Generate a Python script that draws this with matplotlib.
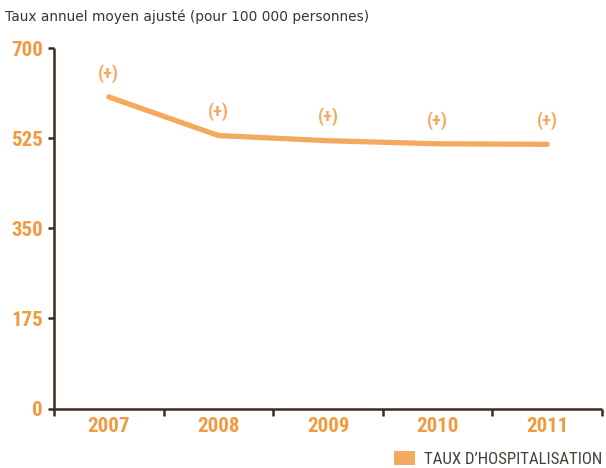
import matplotlib
matplotlib.use("Agg")
import matplotlib.pyplot as plt
import matplotlib.font_manager as fm
from matplotlib.patches import Patch

# data
years = ["2007", "2008", "2009", "2010", "2011"]
hosp_rate = [605, 530, 520, 514, 513]
y_ticks = [0, 175, 350, 525, 700]
marker_text = "(+)"

title = "Taux annuel moyen ajusté (pour 100 000 personnes)"
legend_label = "TAUX D\u2019HOSPITALISATION"

ORANGE_TXT = "#f29a3f"
ORANGE_LINE = "#f3aa5f"
BROWN = "#3d2b1f"

# pick a narrow face if one is around, otherwise condensed DejaVu
installed = {f.name for f in fm.fontManager.ttflist}
narrow = "DejaVu Sans"
for cand in ["Liberation Sans Narrow", "Roboto Condensed", "Open Sans Condensed"]:
    if cand in installed:
        narrow = cand
        break
NARROW = [narrow, "DejaVu Sans"]

fig = plt.figure(figsize=(6.06, 4.68), dpi=100)
ax = fig.add_axes([54 / 606, 1 - 408.5 / 468, (602 - 54) / 606, (408.5 - 48) / 468])

x = list(range(len(years)))
ax.plot(x, hosp_rate, color=ORANGE_LINE, lw=3.8, solid_capstyle="round",
        solid_joinstyle="round", zorder=3)

# the little (+) above every point
for xi, v in zip(x, hosp_rate):
    ax.annotate(marker_text, (xi, v), xytext=(0, 17), textcoords="offset points",
                ha="center", va="center", color=ORANGE_LINE, fontsize=13.5,
                fontweight="bold", family=NARROW, fontstretch="condensed")

ax.set_xlim(-0.5, len(years) - 0.5)
ax.set_ylim(0, 700)

ax.set_xticks(x)
ax.set_xticklabels(years)
ax.set_xticks([i - 0.5 for i in range(len(years) + 1)], minor=True)
ax.tick_params(axis="x", which="major", length=0, pad=6)
ax.tick_params(axis="x", which="minor", length=5, width=1.8, color=BROWN, direction="out")

ax.set_yticks(y_ticks)
ax.tick_params(axis="y", length=4, width=1.8, color=BROWN, pad=4)

for lab in ax.get_xticklabels() + ax.get_yticklabels():
    lab.set_family(NARROW)
    lab.set_fontweight("bold")
    lab.set_fontstretch("condensed")
    lab.set_fontsize(15)
    lab.set_color(ORANGE_TXT)

for side in ["top", "right"]:
    ax.spines[side].set_visible(False)
for side in ["left", "bottom"]:
    ax.spines[side].set_color(BROWN)
    ax.spines[side].set_linewidth(1.8)
    ax.spines[side].set_capstyle("butt")

fig.text(5 / 606, 1 - 17 / 468, title, ha="left", va="center",
         fontsize=9.9, color="#3a3330", family="DejaVu Sans")

handles = [Patch(facecolor=ORANGE_LINE, edgecolor="none", label=legend_label)]
fig.legend(handles=handles, loc="lower right", bbox_to_anchor=(0.997, -0.002),
           frameon=False, handlelength=1.25, handleheight=0.9,
           handletextpad=0.55, borderpad=0, borderaxespad=0.1,
           prop={"family": NARROW, "size": 12.2, "stretch": "condensed"},
           labelcolor="#4a3f38")

fig.savefig("out.png", dpi=100)
